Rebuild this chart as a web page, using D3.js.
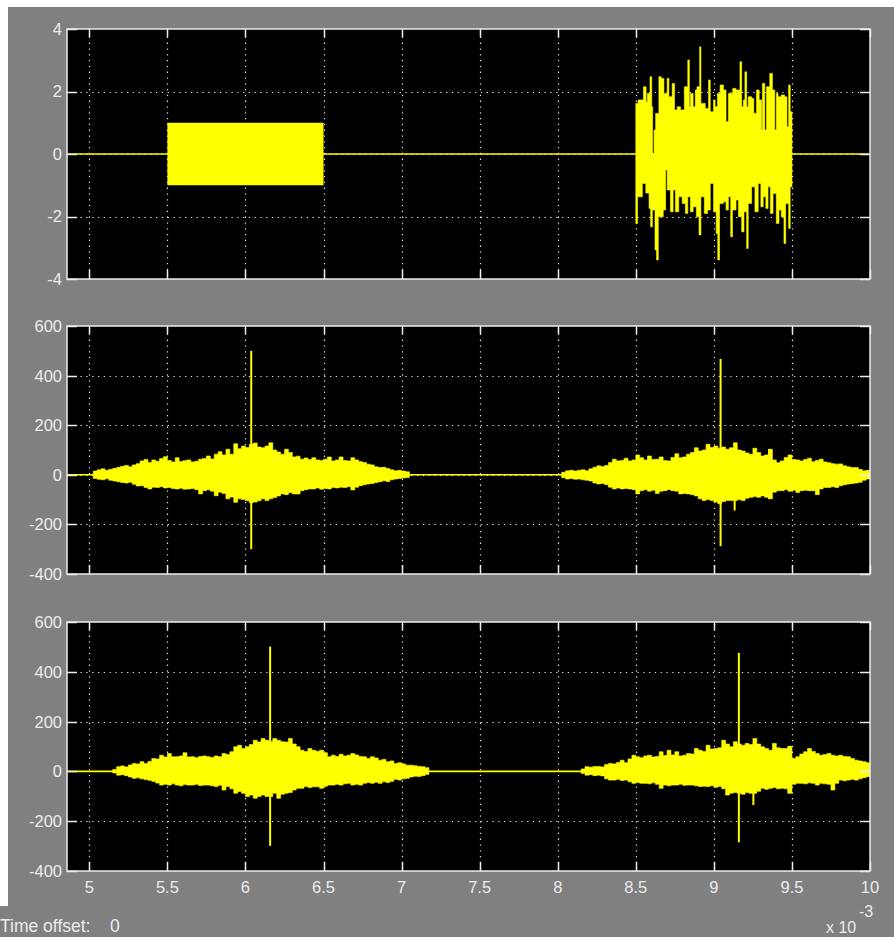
<!DOCTYPE html>
<html><head><meta charset="utf-8">
<script src="https://cdn.jsdelivr.net/npm/d3@7"></script>
<style>html,body{margin:0;padding:0;background:#fff;} svg{display:block;}</style>
</head><body>
<svg id="c" width="894" height="937"></svg>
<script>
// ---------------- DATA ----------------
const xTicks = [5, 5.5, 6, 6.5, 7, 7.5, 8, 8.5, 9, 9.5, 10];
const xTickLabels = ["5", "5.5", "6", "6.5", "7", "7.5", "8", "8.5", "9", "9.5", "10"];
const xDomain = [4.857, 10];
const xExponentLabel = "-3";
const p1Ticks = [-4, -2, 0, 2, 4];
const p1Domain = [-4, 4];
const p23Ticks = [-400, -200, 0, 200, 400, 600];
const p23Domain = [-400, 600];
const timeOffsetLabel = "Time offset:";
const timeOffsetValue = "0";

// Panel 1: rectangular burst (+/-1) and noise burst
const blockTimes = [5.5, 6.5];
const blockUpper = [1, 1];
const blockLower = [-1, -1];
const noiseUpperT = [8.500, 8.515, 8.549, 8.566, 8.574, 8.591, 8.602, 8.608, 8.617, 8.627, 8.648, 8.663, 8.680, 8.701, 8.712, 8.733, 8.748, 8.765, 8.786, 8.811, 8.833, 8.843, 8.850, 8.867, 8.881, 8.892, 8.909, 8.917, 8.945, 8.966, 8.977, 8.998, 9.008, 9.023, 9.040, 9.061, 9.078, 9.093, 9.121, 9.142, 9.167, 9.178, 9.189, 9.199, 9.210, 9.220, 9.242, 9.256, 9.273, 9.290, 9.305, 9.311, 9.326, 9.337, 9.358, 9.375, 9.390, 9.400, 9.411, 9.432, 9.453, 9.468, 9.479, 9.489, 9.500];
const noiseUpperV = [1.62, 1.73, 2.15, 1.67, 1.94, 2.47, 1.51, 0.0, 0.77, 1.30, 2.47, 2.42, 1.94, 2.42, 1.83, 2.26, 1.41, 1.51, 1.41, 2.15, 3.01, 1.51, 1.94, 1.51, 2.05, 2.15, 3.43, 1.62, 1.46, 2.37, 1.35, 1.73, 1.51, 1.94, 2.21, 2.05, 1.03, 1.94, 2.10, 2.05, 2.95, 1.51, 1.73, 2.63, 1.51, 1.83, 1.78, 1.30, 2.05, 1.73, 0.77, 2.26, 0.77, 2.15, 2.58, 2.05, 0.77, 1.94, 1.83, 1.89, 1.83, 0.87, 2.21, 1.35, 0];
const noiseLowerT = [8.500, 8.511, 8.542, 8.564, 8.585, 8.595, 8.606, 8.623, 8.633, 8.644, 8.676, 8.691, 8.701, 8.722, 8.739, 8.754, 8.775, 8.797, 8.818, 8.833, 8.850, 8.867, 8.888, 8.905, 8.917, 8.939, 8.960, 8.977, 8.998, 9.015, 9.025, 9.036, 9.061, 9.078, 9.093, 9.108, 9.119, 9.142, 9.157, 9.178, 9.193, 9.210, 9.220, 9.242, 9.263, 9.284, 9.301, 9.316, 9.333, 9.347, 9.362, 9.379, 9.400, 9.417, 9.432, 9.449, 9.460, 9.479, 9.489, 9.500];
const noiseLowerV = [-2.22, -1.37, -0.94, -1.25, -1.74, -2.33, -1.79, -3.07, -3.39, -2.01, -1.79, -0.51, -1.15, -1.85, -1.15, -1.85, -1.37, -1.58, -1.90, -1.37, -1.85, -1.69, -2.01, -2.59, -1.37, -1.90, -1.79, -0.94, -1.85, -2.54, -3.39, -1.58, -1.53, -1.79, -1.37, -2.65, -1.79, -1.47, -2.01, -2.49, -1.85, -3.02, -1.58, -1.05, -1.85, -0.94, -1.69, -1.37, -1.74, -1.05, -1.90, -1.26, -2.22, -1.79, -2.01, -2.86, -1.58, -2.38, -1.05, 0];

// Envelope sample step (ms) for the correlator outputs
const envStep = 0.025;

// Panel 2: correlator output, two bursts
const p2b1Start = 5.025;
const p2b1Upper = [15, 20, 24, 18, 22, 26, 30, 34, 38, 32, 40, 45, 56, 62, 50, 60, 55, 66, 73, 58, 52, 69, 54, 57, 60, 52, 55, 63, 66, 76, 64, 83, 93, 80, 103, 83, 125, 105, 116, 110, 123, 128, 112, 109, 116, 129, 100, 92, 83, 103, 90, 72, 75, 63, 68, 62, 69, 60, 58, 63, 72, 56, 60, 72, 58, 56, 69, 60, 53, 50, 43, 40, 32, 29, 30, 25, 20, 16, 18, 15, 12];
const p2b1Lower = [-15, -18, -20, -16, -22, -25, -28, -31, -33, -30, -38, -45, -44, -51, -57, -50, -51, -48, -53, -51, -55, -57, -54, -58, -57, -55, -60, -77, -64, -60, -66, -84, -70, -75, -97, -90, -111, -97, -100, -105, -113, -110, -105, -97, -104, -97, -92, -85, -77, -80, -72, -77, -77, -64, -60, -57, -57, -53, -58, -55, -57, -51, -53, -50, -51, -48, -61, -50, -44, -40, -37, -35, -31, -28, -24, -27, -20, -17, -15, -13, -11];
const p2b2Start = 8.025;
const p2b2Upper = [10, 16, 18, 15, 18, 20, 16, 24, 30, 36, 33, 38, 50, 63, 56, 58, 67, 56, 60, 80, 69, 60, 76, 62, 63, 72, 58, 56, 70, 85, 69, 72, 83, 90, 109, 96, 100, 123, 110, 116, 107, 112, 103, 109, 129, 100, 96, 88, 83, 107, 90, 76, 80, 103, 60, 49, 56, 70, 80, 62, 60, 56, 62, 67, 53, 58, 63, 52, 49, 45, 43, 44, 36, 32, 29, 29, 22, 16, 18, 14];
const p2b2Lower = [-12, -17, -15, -18, -17, -20, -22, -25, -33, -37, -35, -40, -50, -57, -53, -57, -55, -57, -60, -77, -64, -60, -66, -62, -75, -66, -64, -60, -64, -66, -77, -75, -77, -80, -85, -97, -104, -100, -104, -110, -117, -108, -104, -104, -104, -100, -104, -95, -91, -88, -91, -85, -91, -97, -70, -64, -64, -60, -66, -62, -71, -64, -62, -64, -64, -80, -57, -51, -51, -48, -51, -44, -40, -37, -35, -33, -30, -22, -17, -14];
const p2SpikeT = [6.037, 9.043, 9.133, 9.353];
const p2SpikeTop = [500, 467, 0, 103];
const p2SpikeBottom = [-300, -288, -144, -97];

// Panel 3: delayed correlator output
const p3b1Start = 5.15;
const p3b1Upper = [8, 19, 22, 18, 26, 32, 30, 39, 32, 40, 52, 50, 65, 58, 72, 59, 59, 62, 75, 58, 59, 55, 60, 62, 59, 56, 62, 59, 72, 68, 79, 99, 105, 92, 99, 108, 125, 118, 132, 125, 120, 132, 125, 119, 118, 132, 110, 99, 85, 80, 92, 85, 81, 85, 75, 59, 65, 60, 69, 62, 65, 72, 66, 60, 59, 52, 59, 54, 45, 48, 39, 42, 32, 35, 30, 25, 25, 23, 20, 19, 15];
const p3b1Lower = [-6, -15, -13, -17, -22, -28, -26, -30, -33, -36, -41, -47, -55, -52, -55, -50, -55, -58, -53, -55, -55, -52, -57, -55, -55, -58, -61, -56, -75, -61, -70, -88, -81, -88, -101, -95, -108, -101, -95, -101, -101, -88, -108, -92, -88, -85, -75, -68, -68, -61, -65, -62, -62, -68, -60, -55, -55, -52, -55, -50, -48, -55, -52, -55, -48, -45, -48, -44, -48, -42, -45, -40, -32, -35, -30, -28, -22, -19, -20, -17, -12];
const p3b2Start = 8.15;
const p3b2Upper = [10, 19, 17, 20, 20, 18, 28, 32, 30, 36, 45, 35, 50, 65, 59, 55, 62, 65, 58, 60, 79, 64, 85, 66, 79, 62, 65, 72, 70, 92, 85, 80, 105, 90, 92, 95, 125, 110, 99, 119, 110, 105, 112, 108, 132, 110, 99, 92, 85, 112, 95, 92, 92, 101, 52, 59, 70, 79, 92, 80, 72, 65, 68, 72, 65, 62, 65, 60, 59, 52, 45, 42, 39, 35, 32];
const p3b2Lower = [-8, -15, -13, -17, -15, -18, -30, -35, -35, -32, -37, -35, -42, -48, -45, -48, -48, -50, -46, -52, -68, -55, -58, -55, -55, -52, -56, -55, -55, -58, -61, -60, -61, -58, -64, -61, -70, -95, -88, -85, -88, -92, -85, -88, -88, -80, -68, -72, -68, -65, -70, -68, -70, -88, -52, -48, -48, -50, -46, -48, -55, -48, -50, -52, -75, -48, -35, -38, -35, -32, -35, -30, -25, -21, -22];
const p3SpikeT = [6.158, 9.160, 9.253, 9.478];
const p3SpikeTop = [501, 476, 0, 101];
const p3SpikeBottom = [-299, -285, -135, -88];

// ---------------- DRAW ----------------
const W = 894, H = 937;
const BG = "#808080", FG = "#ececec", SIG = "#ffff00";
const FONT = "'Liberation Sans', Arial, sans-serif";
const svg = d3.select("#c");

// window background
svg.append("rect").attr("x", 0).attr("y", 0).attr("width", W).attr("height", H).attr("fill", "#ffffff");
svg.append("rect").attr("x", 8).attr("y", 7).attr("width", W - 8).attr("height", 899).attr("fill", BG);
svg.append("rect").attr("x", 0).attr("y", 906).attr("width", W).attr("height", H - 906).attr("fill", BG);

const x = d3.scaleLinear().domain(xDomain).range([67, 870]);

function blobSeries(start, vals) {
  const pts = vals.map((v, i) => [start + i * envStep, v]);
  pts.push([start + vals.length * envStep, 0]);
  return pts;
}

const panels = [
  { top: 29, bottom: 279, domain: p1Domain, ticks: p1Ticks,
    fills: [d3.zip(noiseUpperT, noiseUpperV), d3.zip(noiseLowerT, noiseLowerV)],
    blocks: [d3.zip(blockTimes, blockUpper, blockLower)],
    spikes: [] , xlabels: false},
  { top: 326, bottom: 574, domain: p23Domain, ticks: p23Ticks,
    fills: [blobSeries(p2b1Start, p2b1Upper), blobSeries(p2b1Start, p2b1Lower),
            blobSeries(p2b2Start, p2b2Upper), blobSeries(p2b2Start, p2b2Lower)],
    blocks: [], spikes: d3.zip(p2SpikeT, p2SpikeTop, p2SpikeBottom), xlabels: false },
  { top: 622, bottom: 871, domain: p23Domain, ticks: p23Ticks,
    fills: [blobSeries(p3b1Start, p3b1Upper), blobSeries(p3b1Start, p3b1Lower),
            blobSeries(p3b2Start, p3b2Upper), blobSeries(p3b2Start, p3b2Lower)],
    blocks: [], spikes: d3.zip(p3SpikeT, p3SpikeTop, p3SpikeBottom), xlabels: true }
];

panels.forEach((p, pi) => {
  const y = d3.scaleLinear().domain(p.domain).range([p.bottom, p.top]);
  const g = svg.append("g");
  const [x0, x1] = x.range();
  const clipId = "clip" + pi;
  g.append("clipPath").attr("id", clipId).append("rect")
    .attr("x", x0).attr("y", p.top).attr("width", x1 - x0).attr("height", p.bottom - p.top);
  g.append("rect").attr("x", x0).attr("y", p.top).attr("width", x1 - x0).attr("height", p.bottom - p.top).attr("fill", "#000");

  // grid
  const grid = g.append("g").attr("stroke", "#e0e0e0").attr("stroke-width", 1.2).attr("stroke-dasharray", "1.3,4.5");
  xTicks.filter(t => t > xDomain[0] && t < xDomain[1]).forEach(t => {
    const xx = Math.round(x(t)) + 0.5;
    grid.append("line").attr("x1", xx).attr("x2", xx).attr("y1", p.top + 2).attr("y2", p.bottom - 2);
  });
  p.ticks.filter(t => t > p.domain[0] && t < p.domain[1]).forEach(t => {
    const yy = Math.round(y(t)) + 0.5;
    grid.append("line").attr("x1", x0 + 2).attr("x2", x1 - 2).attr("y1", yy).attr("y2", yy);
  });

  // signals
  const sg = g.append("g").attr("clip-path", `url(#${clipId})`);
  sg.append("path").datum(xDomain)
    .attr("d", d3.line().x(d => x(d)).y(() => y(0)))
    .attr("stroke", SIG).attr("stroke-width", 1.6).attr("fill", "none");
  const area = d3.area().curve(d3.curveStepAfter).x(d => x(d[0])).y0(() => y(0)).y1(d => y(d[1]));
  p.fills.forEach(s => {
    sg.append("path").datum(s).attr("d", area).attr("fill", SIG).attr("stroke", SIG).attr("stroke-width", 0.6);
  });
  const band = d3.area().x(d => x(d[0])).y0(d => y(d[2])).y1(d => y(d[1]));
  p.blocks.forEach(b => {
    sg.append("path").datum(b).attr("d", band).attr("fill", SIG);
  });
  sg.selectAll("line.spike").data(p.spikes).join("line").attr("class", "spike")
    .attr("x1", d => x(d[0])).attr("x2", d => x(d[0]))
    .attr("y1", d => y(d[1])).attr("y2", d => y(d[2]))
    .attr("stroke", SIG).attr("stroke-width", 2);

  // frame
  g.append("rect").attr("x", x0).attr("y", p.top).attr("width", x1 - x0).attr("height", p.bottom - p.top)
    .attr("fill", "none").attr("stroke", FG).attr("stroke-width", 1.5);

  // ticks (inside, all four sides)
  const tk = g.append("g").attr("stroke", FG).attr("stroke-width", 1.5);
  xTicks.forEach(t => {
    const xx = Math.round(x(t)) + 0.5;
    tk.append("line").attr("x1", xx).attr("x2", xx).attr("y1", p.bottom).attr("y2", p.bottom - 9);
    tk.append("line").attr("x1", xx).attr("x2", xx).attr("y1", p.top).attr("y2", p.top + 8);
  });
  p.ticks.forEach(t => {
    const yy = Math.round(y(t)) + 0.5;
    tk.append("line").attr("x1", x0).attr("x2", x0 + 10).attr("y1", yy).attr("y2", yy);
    tk.append("line").attr("x1", x1).attr("x2", x1 - 10).attr("y1", yy).attr("y2", yy);
  });

  // y tick labels
  g.selectAll("text.yl").data(p.ticks).join("text").attr("class", "yl")
    .attr("x", 62).attr("y", d => y(d)).attr("dy", "0.36em")
    .attr("text-anchor", "end").attr("fill", FG)
    .attr("font-family", FONT).attr("font-size", 16.5)
    .text(d => String(d));

  if (p.xlabels) {
    g.selectAll("text.xl").data(d3.zip(xTicks, xTickLabels)).join("text").attr("class", "xl")
      .attr("x", d => x(d[0])).attr("y", p.bottom + 16).attr("dy", "0.36em")
      .attr("text-anchor", "middle").attr("fill", FG)
      .attr("font-family", FONT).attr("font-size", 16.5)
      .text(d => d[1]);
  }
});

// exponent label
svg.append("text").attr("x", 826).attr("y", 933).attr("fill", FG)
  .attr("font-family", FONT).attr("font-size", 16).text("x 10");
svg.append("text").attr("x", 859).attr("y", 917).attr("fill", FG)
  .attr("font-family", FONT).attr("font-size", 16).text(xExponentLabel);

// time offset
svg.append("text").attr("x", 0).attr("y", 932).attr("fill", FG)
  .attr("font-family", FONT).attr("font-size", 17.5).text(timeOffsetLabel);
svg.append("text").attr("x", 110).attr("y", 932).attr("fill", FG)
  .attr("font-family", FONT).attr("font-size", 17.5).text(timeOffsetValue);
</script>
</body></html>
